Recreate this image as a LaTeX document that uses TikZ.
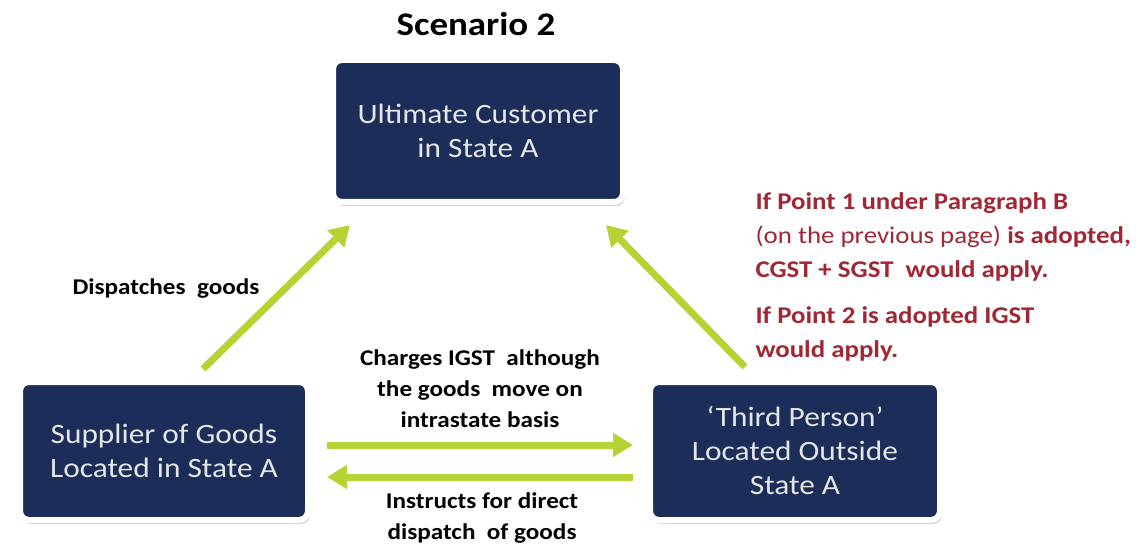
\documentclass[tikz,border=0pt]{standalone}
\usepackage{fontspec}
\setmainfont{Carlito}[FakeStretch=1.12]
\usepackage{tikz}
\usetikzlibrary{arrows.meta,shadows}

\definecolor{navy}{RGB}{28,45,90}
\definecolor{leaf}{RGB}{181,211,52}
\definecolor{rust}{RGB}{160,40,52}

\begin{document}
\begin{tikzpicture}[x=1pt,y=-1pt,
  party/.style={rectangle,rounded corners=9pt,fill=navy,draw=white,line width=6pt,
    text=white!90!black,align=center,font=\fontsize{28}{34}\selectfont,
    drop shadow={shadow xshift=2pt,shadow yshift=-4pt,fill=black!30,opacity=0.6}},
  flow/.style={leaf,line width=7pt,-{Triangle[length=20pt,width=23pt]}},
  note/.style={align=center,font=\fontsize{22.5}{31}\selectfont\bfseries},
  remark/.style={align=left,text=rust,anchor=west,font=\fontsize{24}{34}\selectfont\bfseries}]
\useasboundingbox (0,0) rectangle (1144,548);

\node[font=\fontsize{33}{36}\selectfont\bfseries] (title) at (476,24) {Scenario 2};

\node[party,minimum width=290pt,minimum height=142pt] (cust) at (478,131) {Ultimate Customer\\in State A};
\node[party,minimum width=288pt,minimum height=138pt] (sup) at (164,451) {Supplier of Goods\\Located in State A};
\node[party,minimum width=290pt,minimum height=138pt] (third) at (795,451) {`Third Person'\\Located Outside\\State A};

\draw[flow] ([xshift=39pt,yshift=10pt]sup.north) -- ([xshift=20pt,yshift=-20pt]cust.south west);
\draw[flow] ([xshift=-50pt,yshift=12pt]third.north) -- ([xshift=-20pt,yshift=-20pt]cust.south east);
\draw[flow] ([xshift=16pt,yshift=6pt]sup.east) -- ([xshift=-14pt,yshift=6pt]third.west);
\draw[flow] ([xshift=-14pt,yshift=-26pt]third.west) -- ([xshift=16pt,yshift=-26pt]sup.east);

\node[note] (disp) at (166,289) {Dispatches\ \ goods};
\node[note] (charge) at (480,389) {Charges IGST\ \ although\\the goods\ \ move on\\intrastate basis};
\node[note] (instr) at (482,518) {Instructs for direct\\dispatch\ \ of goods};

\node[remark] (rule1) at (752,237) {If Point 1 under Paragraph B\\{\mdseries(on the previous page)} is adopted,\\CGST + SGST\ \ would apply.};
\node[remark] (rule2) at (752,334) {If Point 2 is adopted IGST\\would apply.};
\end{tikzpicture}
\end{document}
